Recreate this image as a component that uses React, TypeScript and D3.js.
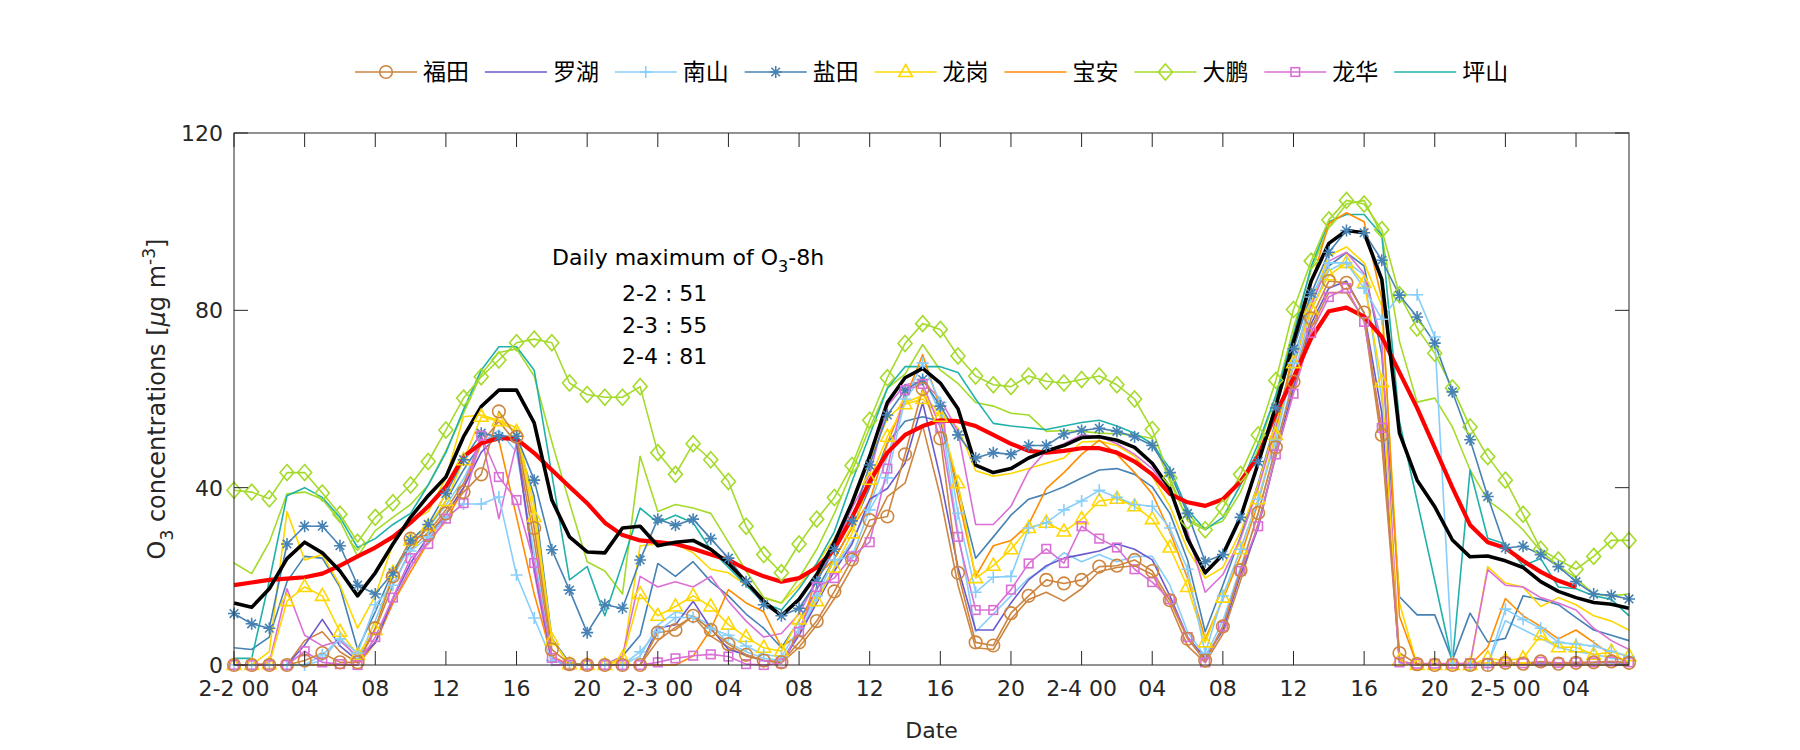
import * as d3 from 'd3';

// hourly O3 from 2-2 00 to 2-5 07 (80 hours)
const hours = d3.range(0, 80);

const futian = [0, 0, 0, 0, 1, 2.7, 0.6, 0.6, 8.3, 20, 28.5, 29.3, 34.2, 39, 43, 57.2, 51.5, 30.9, 3.5, 0.2, 0, 0, 0, 0, 7.3, 7.9, 11.1, 7.9, 4.7, 2.3, 1, 0.6, 5.1, 9.9, 16.6, 23.8, 32.7, 33.5, 47.5, 62.3, 51.1, 20.8, 5.1, 4.4, 11.7, 15.6, 19.2, 18.4, 19.2, 22.2, 22.4, 23.7, 21.2, 14.6, 5.9, 1, 8.7, 21.4, 34.3, 49.1, 63.9, 78.2, 86.6, 86.2, 79.5, 51.9, 2.7, 0.2, 0, 0, 0, 0, 0.5, 0.3, 0.8, 0.3, 0.5, 0.6, 0.8, 0.5];
const luohu = [0, 0, 0, 0, 4.5, 10.3, 4.3, 1, 5, 15, 23, 29, 34, 40, 48, 52, 50, 22, 1, 0, 0, 0, 0, 0, 8.3, 9.1, 14.4, 8.3, 3.5, 2.3, 1, 0.6, 6.7, 14, 21.2, 27.3, 37.4, 39.8, 45.5, 59.2, 42.2, 22, 7.9, 7.9, 14, 19.2, 22.4, 24.1, 24.9, 25.7, 27.3, 26.1, 23.7, 15.6, 6.3, 1.5, 7.9, 20.4, 30.9, 47.5, 62.8, 77, 85, 86.6, 79.4, 56.8, 0.6, 0, 0, 0, 0, 0, 0.3, 0.3, 0.5, 0.3, 0.4, 0.5, 0.5, 0.4];
const nanshan = [0, 0, 0, 0, 0, 2.3, 5.9, 2.7, 13.6, 18, 25.7, 28.9, 33.3, 36.3, 36.3, 37.9, 20.3, 10.6, 1, 0, 0, 0, 0, 3, 7.5, 10.7, 10.7, 8.3, 6.7, 4.3, 2.3, 1.9, 8.3, 15.6, 23.7, 24.5, 35, 42.2, 60, 68.1, 59.2, 34.2, 16.4, 19.8, 20, 30.9, 32.1, 35, 37, 39.4, 37.8, 36.2, 35.8, 30.9, 21.6, 2.7, 15.6, 26.1, 37.4, 50.7, 68.1, 83, 90.7, 90.7, 85, 78, 83.5, 83.5, 74, 0.4, 0, 0, 12.6, 10.3, 8.3, 5.1, 4.7, 4.3, 3.1, 1.9];
const yantian = [11.6, 9.3, 8.3, 27.3, 31.3, 31.3, 26.9, 18, 16, 20.8, 28.1, 31.7, 38.7, 46.3, 52.3, 51.5, 51.6, 41.7, 26, 16.9, 7.3, 13.6, 12.8, 23.7, 32.9, 31.5, 32.9, 28.5, 24.1, 18.8, 13.6, 11.1, 12.8, 18.8, 26.1, 32.5, 45.1, 56.4, 62, 64.4, 58.4, 51.9, 46.7, 47.9, 47.5, 49.5, 49.5, 52.1, 52.9, 53.4, 52.7, 51.5, 49.5, 43.4, 34.2, 23.3, 24.9, 33.3, 45.9, 58, 71.3, 83.8, 93.1, 98, 97.5, 91.3, 83.4, 78.5, 72.6, 61.6, 50.8, 38, 26.4, 26.8, 24.9, 22.2, 18.8, 16, 15.7, 14.9];
const longgang = [0, 0, 0.2, 14.4, 17.6, 15.6, 7.5, 2.3, 7.9, 20.8, 28.1, 31.3, 37, 46.2, 56, 55, 52.6, 33.4, 5.6, 0.2, 0, 0, 1.5, 16, 11.1, 13.2, 15.6, 13.2, 9.1, 6.3, 3.9, 3.1, 10.3, 14.4, 22, 29.7, 41.8, 51.5, 58.8, 60, 56, 41, 19.6, 22.4, 26.1, 30.9, 32.1, 30.1, 32.9, 37, 37.5, 35.8, 32.9, 26.5, 17.6, 5.1, 15.2, 26.1, 37.4, 51.9, 68.1, 80.2, 87.9, 90.7, 86.2, 63.8, 1, 0, 0, 0, 0, 1.5, 1, 1.5, 6.7, 4, 4, 2.3, 3, 2];
const baoan = [0, 0, 0, 0, 0, 0, 0, 0, 5, 14, 21, 27.7, 32.5, 39.8, 50, 50.7, 33.4, 16, 1.8, 0, 0, 0, 0, 0, 0, 0, 2, 8, 17, 14, 12, 4, 7, 20, 24, 31, 37, 50, 60, 70, 58, 38, 20, 26.9, 28.1, 31.7, 39.8, 43.4, 47.5, 50.7, 47.5, 43.4, 38.6, 30.1, 19.6, 5.9, 14.8, 24.5, 36.6, 51.9, 71.3, 85.8, 99.6, 102, 100, 82.6, 11, 0, 0, 0, 0, 4, 15, 11.1, 8.7, 5.9, 7.9, 5.1, 2.3, 0.6];
const dapeng = [39.4, 39, 37.5, 43.4, 43.4, 38.8, 34, 27.7, 33.3, 36.6, 40.6, 45.9, 53, 60.2, 65, 68.8, 72.7, 73.5, 72.7, 63.6, 61, 60.4, 60.4, 62.8, 47.9, 43, 49.9, 46.3, 41.4, 31.3, 24.9, 20.8, 27.3, 32.9, 37.8, 45, 55.2, 64.8, 72.5, 77, 75.7, 69.7, 65.2, 63.2, 62.8, 65.2, 64, 63.6, 64.4, 65.2, 63.2, 60, 53.1, 42.2, 32.5, 30.5, 35.4, 43, 51.9, 64.2, 80.2, 91.1, 100.4, 104.8, 104, 98.2, 83.5, 76, 70.3, 62.5, 53.7, 47, 41.7, 34, 26.1, 23.7, 21.6, 24.5, 28.1, 28.1];
const longhua = [0, 0, 0, 0, 3.1, 0.6, 0.2, 0, 6.3, 15.2, 24.1, 27.3, 33, 36.5, 51.7, 42.4, 37.2, 23, 1.6, 0, 0, 0, 0, 0, 0.6, 1.5, 2.1, 2.4, 1.9, 0.2, 0, 0.4, 7.5, 17.6, 19.6, 24.5, 27.7, 44.3, 62, 63.4, 53.5, 28.9, 12.4, 12.4, 17, 22.9, 26.2, 23, 31.3, 28.5, 26.5, 21.6, 18.7, 14.8, 6.3, 0.6, 8.7, 21.2, 31.3, 47.5, 61.2, 74.9, 83, 85, 77.4, 53.5, 0.6, 0.3, 0.3, 0.3, 0.4, 0.4, 0.6, 0.4, 0.7, 0.5, 0.6, 0.6, 0.8, 0.6];
const pingshan = [1.5, 1.5, 19, 38.2, 40, 37.8, 33.3, 26.5, 28.5, 31.7, 34.2, 40.6, 47.9, 57.6, 66.5, 71.8, 71.8, 66.5, 43, 19.2, 22.2, 11.1, 23, 35.4, 32.1, 33.8, 32.1, 26, 22, 18, 14, 12.4, 17.2, 22.9, 30.1, 41.4, 51.9, 62.4, 67.3, 67.3, 67.3, 66, 60, 54.5, 53.9, 53.5, 53.1, 53.9, 54.7, 55.2, 53.9, 52.3, 49.9, 44.3, 35, 30.5, 33.3, 40.6, 49.9, 60.8, 74.5, 89.9, 100, 101.6, 101.6, 97, 55, 37, 19, 0.5, 44, 28.6, 27.3, 22.4, 24, 17.6, 17.2, 15.6, 14.8, 11.1];

// unlabelled companion lines (same colours, no markers)
const futian2 = [0, 0, 0, 0, 5.5, 7.5, 3, 0.5, 8, 18, 26, 30, 35, 41, 50, 55, 50, 28, 2, 0, 0, 0, 0, 0, 5.5, 8.5, 11, 6.5, 4, 2, 1, 0.5, 4, 9, 15, 22, 30, 38, 41, 54, 38, 18, 3.9, 3.5, 10.3, 14.8, 16.4, 14.4, 17.2, 21.1, 22, 22.4, 20.4, 13.6, 4.3, 0.5, 7, 19, 32, 47, 62, 76, 84, 84, 78, 50, 1, 0, 0, 0, 0, 0, 0, 0, 0, 0, 0, 0, 0, 0];
const nanshan2 = [0, 0, 0, 0, 0, 1, 6.3, 1, 10, 20, 27, 31, 36, 42, 50, 53, 48, 25, 1, 0, 0, 0, 0, 2, 9, 12, 11, 9, 5, 3, 1.5, 1, 7, 15, 22, 28, 36, 47, 60, 65, 57, 30, 7.5, 11.5, 15.6, 19.6, 22, 25.3, 23.3, 24.9, 23.3, 24.5, 24.5, 18, 7.5, 1.9, 10, 22, 34, 49, 65, 80, 89, 91, 88, 60, 1, 0, 0, 0, 0, 0, 10, 8, 6, 4, 3, 2.5, 1.5, 1];
const yantian2 = [3.9, 3.5, 6.3, 18.8, 24.5, 24.1, 17.6, 3.5, 12, 21.2, 27, 31, 37, 44, 50, 52, 51, 38, 6, 0.5, 0, 0, 2, 6.7, 22.9, 20, 23.3, 18.8, 15.6, 11.5, 8.3, 3.9, 10, 17, 24, 31, 40, 50, 55, 56, 55, 40, 24.1, 28.9, 33.8, 37.4, 38.6, 40.2, 42.2, 44, 44.3, 43, 40.2, 34.2, 23.7, 7.5, 18, 29, 41, 55, 69, 82, 90, 93, 90, 70, 15.4, 11.3, 11.3, 1.1, 11.7, 5.2, 6, 15.6, 14.8, 13.6, 10.7, 7.9, 6.7, 5.5];
const longgang2 = [0, 0, 3, 34.6, 23.7, 24.9, 18, 8.3, 15.6, 27.3, 32.5, 34.6, 42.2, 56, 56.4, 55.2, 53.5, 35.8, 5.9, 0, 0, 0, 1, 26.9, 27.3, 27.3, 25.3, 21.6, 20.8, 18, 15.2, 14, 18, 22.9, 28.5, 36.2, 46.3, 55.6, 59.2, 60.8, 56.8, 53.5, 43.8, 42.6, 43.2, 44.3, 45.5, 46.7, 50.3, 50.5, 49.5, 47.1, 42.6, 35.8, 26.1, 19.6, 22, 30.1, 40.6, 54.3, 68.1, 81.8, 92.3, 94.3, 90.7, 81, 14, 0, 0, 0, 0, 22.2, 18.5, 17.6, 13.2, 15.2, 13.6, 11.1, 9.9, 7.9];
const dapeng2 = [23, 20.6, 27.7, 38.6, 39, 37.4, 32.5, 24.5, 30.3, 33.3, 36.2, 40.6, 48.3, 56.8, 65.6, 70.5, 71.3, 65.2, 50.3, 36.6, 23.3, 21.2, 16, 47.1, 34.6, 36.2, 35.4, 34.2, 27.7, 21.2, 15.2, 14, 19.6, 26.1, 34.2, 43.8, 53.5, 62.4, 65.6, 72.3, 66.5, 63.5, 59.2, 58.4, 56.8, 56.4, 52.7, 52.9, 52.7, 52.3, 52.1, 51.9, 51.1, 41.4, 32.9, 30.9, 32.5, 39, 48.7, 60.8, 76.1, 89.1, 98.8, 104, 104.8, 97.1, 73, 59.3, 60.2, 53.7, 44, 37.2, 34.2, 30.5, 25.7, 22.4, 19.6, 16, 15.6, 16];
const longhua2 = [0, 0, 0.5, 17.2, 6.7, 4.3, 5.5, 1.9, 5.1, 14, 22, 28, 34, 40, 52, 33, 50, 21, 0, 0, 0, 0, 2, 20, 17.6, 18.8, 17.6, 20, 14.4, 9.9, 6.3, 7.1, 11.5, 19.2, 26.5, 35.4, 43, 58.4, 63.2, 64, 60, 52.7, 31.7, 31.7, 35.8, 43.8, 48.3, 49.9, 51.9, 51.5, 49.9, 47.5, 44.3, 39, 30.1, 16.4, 20.4, 28.5, 39.8, 53.5, 67.3, 81, 91.1, 93.1, 88.3, 72.9, 1, 0, 0, 0, 0.5, 21.5, 18, 17.6, 15.2, 14, 12.4, 8.3, 5.5, 3.5];

// black: mean of stations, red: smoothed reference (ends at 2-5 04)
const meanLine = [14, 13, 17.2, 24, 27.7, 25.3, 21.2, 15.6, 20.8, 27.3, 33.3, 38.2, 42.4, 51.5, 58.3, 62, 62, 54.6, 37.2, 28.9, 25.5, 25.3, 30.9, 31.3, 26.9, 27.7, 28.1, 26.1, 22.9, 18.8, 14.4, 11.1, 14.8, 20.4, 27.7, 36.6, 47.1, 59.2, 64.8, 66.9, 63.6, 57.8, 45.1, 43.4, 44.3, 46.7, 48.3, 49.5, 51.3, 51.5, 50.7, 49.1, 45.5, 39.8, 28.5, 20.8, 24.9, 33.3, 45.5, 58.4, 72.9, 86.6, 95.1, 98, 97.5, 87, 52.3, 41.7, 35.7, 28.2, 24.4, 24.6, 23.5, 22, 18.8, 16.6, 15.2, 14.1, 13.7, 12.8];
const smoothLine = [18, 18.6, 19.2, 19.5, 19.8, 20.6, 22.4, 24.5, 26.5, 28.9, 32.1, 35.8, 40.2, 47, 50, 51.2, 51, 47.8, 44, 40.2, 36.5, 32.1, 29.3, 28.1, 27.7, 27.3, 26.2, 24.9, 23.7, 21.6, 20, 18.8, 19.6, 22, 26.1, 33.3, 41.4, 47.9, 51.9, 53.9, 55.2, 55, 53.9, 51.9, 49.9, 48.3, 47.9, 48.3, 48.9, 48.9, 47.9, 45.9, 43, 38.6, 36.7, 35.9, 37.4, 41.4, 47.1, 56.8, 64.8, 73.7, 79.8, 80.6, 78.6, 74, 66, 58, 49, 40, 31.6, 27.7, 26.4, 23.5, 21, 19, 17.6];

const stationNames = ['福田', '罗湖', '南山', '盐田', '龙岗', '宝安', '大鹏', '龙华', '坪山'];
const stationColors = ['#CD853F', '#6A5ACD', '#87CEFA', '#4682B4', '#FFD700', '#FF8C00', '#A4DB2A', '#DA70D6', '#20B2AA'];
const stationMarkers = ['circle', 'none', 'plus', 'star', 'triangle', 'none', 'diamond', 'square', 'none'];
const stationValues = [futian, luohu, nanshan, yantian, longgang, baoan, dapeng, longhua, pingshan];

const extraValues = [futian2, nanshan2, yantian2, longgang2, dapeng2, longhua2];
const extraColors = ['#CD853F', '#87CEFA', '#4682B4', '#FFD700', '#A4DB2A', '#DA70D6'];

const yTicks = [0, 40, 80, 120];
const xTicks = d3.range(0, 80, 4);
const notes = ['2-2 : 51', '2-3 : 55', '2-4 : 81'];

const FONT = 'DejaVu Sans, sans-serif';
const CJK = '"Noto Sans CJK SC", sans-serif';

function Marker({ type, x, y, color }: { type: string; x: number; y: number; color: string }) {
  const common = { fill: 'none', stroke: color, strokeWidth: 1.6 };
  switch (type) {
    case 'circle':
      return <circle cx={x} cy={y} r={6.3} {...common} />;
    case 'plus':
      return <path d={`M${x - 6},${y}H${x + 6}M${x},${y - 6}V${y + 6}`} {...common} />;
    case 'star':
      return (
        <path
          d={`M${x - 6},${y}H${x + 6}M${x},${y - 6}V${y + 6}M${x - 4.3},${y - 4.3}L${x + 4.3},${y + 4.3}M${x - 4.3},${y + 4.3}L${x + 4.3},${y - 4.3}`}
          {...common}
        />
      );
    case 'triangle':
      return <path d={`M${x},${y - 7.5}L${x + 6.8},${y + 4.5}L${x - 6.8},${y + 4.5}Z`} {...common} />;
    case 'diamond':
      return <path d={`M${x},${y - 8}L${x + 7},${y}L${x},${y + 8}L${x - 7},${y}Z`} {...common} />;
    case 'square':
      return <rect x={x - 4.3} y={y - 4.3} width={8.6} height={8.6} {...common} />;
    default:
      return null;
  }
}

export default function App() {
  const width = 1800;
  const height = 750;
  const margin = { left: 234, right: 171, top: 133, bottom: 85 };
  const x0 = margin.left;
  const x1 = width - margin.right;
  const y0 = height - margin.bottom;
  const y1 = margin.top;

  const x = d3.scaleLinear().domain([0, 79]).range([x0, x1]);
  const y = d3.scaleLinear().domain([0, 120]).range([y0, y1]);

  const line = d3
    .line<number>()
    .x((_, i) => x(hours[i]))
    .y((d) => y(d));

  const tickLen = 14;
  const axisColor = '#262626';

  const xLabel = (h: number) => {
    const hh = h % 24;
    if (hh === 0) return `2-${2 + h / 24} 00`;
    return String(hh).padStart(2, '0');
  };

  const legendStart = 355;
  const legendPitch = 129.9;
  const legendY = 72;

  // draw order: unlabelled lines, reference lines, then stations (福田 on top)
  const drawOrder = [8, 5, 1, 6, 4, 2, 3, 7, 0];

  return (
    <svg
      width={width}
      height={height}
      style={{ position: 'absolute', left: 0, top: 0, background: '#fff' }}
      fontFamily={FONT}
    >
      <rect x={0} y={0} width={width} height={height} fill="#fff" />

      {/* lines */}
      <g fill="none" strokeLinejoin="round">
        {extraValues.map((vals, k) => (
          <path key={`e${k}`} d={line(vals) || ''} stroke={extraColors[k]} strokeWidth={1.6} />
        ))}
        {drawOrder.map((i) => (
          <path key={`s${i}`} d={line(stationValues[i]) || ''} stroke={stationColors[i]} strokeWidth={1.6} />
        ))}
        <path d={line(smoothLine) || ''} stroke="#FF0000" strokeWidth={4.2} />
        <path d={line(meanLine) || ''} stroke="#000" strokeWidth={3.6} />
      </g>

      {/* markers */}
      {drawOrder.map((i) =>
        stationMarkers[i] === 'none' ? null : (
          <g key={`m${i}`}>
            {stationValues[i].map((v, j) => (
              <Marker key={j} type={stationMarkers[i]} x={x(hours[j])} y={y(v)} color={stationColors[i]} />
            ))}
          </g>
        )
      )}

      {/* axes box */}
      <rect x={x0} y={y1} width={x1 - x0} height={y0 - y1} fill="none" stroke={axisColor} strokeWidth={1} />
      {xTicks.map((t) => (
        <g key={`xt${t}`}>
          <line x1={x(t)} x2={x(t)} y1={y0} y2={y0 - tickLen} stroke={axisColor} />
          <line x1={x(t)} x2={x(t)} y1={y1} y2={y1 + tickLen} stroke={axisColor} />
          <text x={x(t)} y={y0 + 31} textAnchor="middle" fontSize={22} fill={axisColor}>
            {xLabel(t)}
          </text>
        </g>
      ))}
      {yTicks.map((t) => (
        <g key={`yt${t}`}>
          <line x1={x0} x2={x0 + tickLen} y1={y(t)} y2={y(t)} stroke={axisColor} />
          <line x1={x1} x2={x1 - tickLen} y1={y(t)} y2={y(t)} stroke={axisColor} />
          <text x={x0 - 11} y={y(t)} dy="0.36em" textAnchor="end" fontSize={22} fill={axisColor}>
            {t}
          </text>
        </g>
      ))}

      {/* axis labels */}
      <text x={(x0 + x1) / 2} y={738} textAnchor="middle" fontSize={22} fill={axisColor}>
        Date
      </text>
      <text
        transform={`translate(165,${(y0 + y1) / 2}) rotate(-90)`}
        textAnchor="middle"
        fontSize={24}
        fill={axisColor}
      >
        O<tspan fontSize={17} dy={8}>3</tspan>
        <tspan dy={-8}> concentrations [</tspan>
        <tspan fontStyle="italic">μ</tspan>g m<tspan fontSize={17} dy={-10}>-3</tspan>
        <tspan dy={10}>]</tspan>
      </text>

      {/* annotation */}
      <text x={552} y={265} fontSize={22} fill="#000">
        Daily maximum of O<tspan fontSize={16} dy={7}>3</tspan>
        <tspan dy={-7}>-8h</tspan>
      </text>
      {notes.map((n, i) => (
        <text key={n} x={622} y={301 + i * 31.5} fontSize={22} fill="#000">
          {n}
        </text>
      ))}

      {/* legend */}
      {stationNames.map((name, i) => {
        const lx = legendStart + i * legendPitch;
        return (
          <g key={name}>
            <line x1={lx} x2={lx + 62} y1={legendY} y2={legendY} stroke={stationColors[i]} strokeWidth={1.6} />
            <Marker type={stationMarkers[i]} x={lx + 31} y={legendY} color={stationColors[i]} />
            <text x={lx + 68} y={legendY} dy="0.36em" fontSize={23} fontFamily={CJK} fill="#000">
              {name}
            </text>
          </g>
        );
      })}
    </svg>
  );
}
